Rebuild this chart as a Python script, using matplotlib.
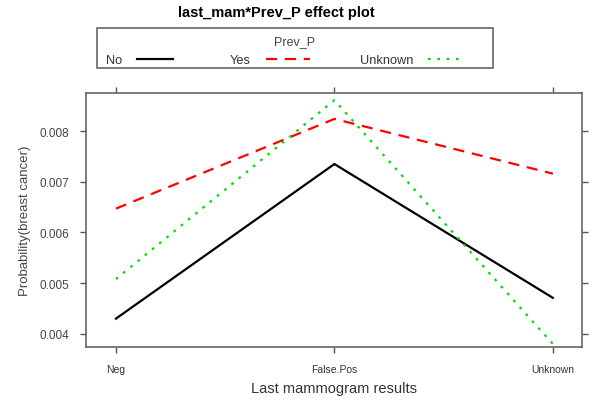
import matplotlib.pyplot as plt
from matplotlib.lines import Line2D
from matplotlib.patches import Rectangle

plt.rcParams['font.family'] = ['Liberation Sans', 'DejaVu Sans']

categories = ['Neg', 'False.Pos', 'Unknown']
prev_no = [0.00430, 0.00735, 0.00471]
prev_yes = [0.00647, 0.00824, 0.00716]
prev_unknown = [0.00508, 0.00861, 0.00380]
yticks = [0.004, 0.005, 0.006, 0.007, 0.008]
legend_labels = ['No', 'Yes', 'Unknown']

W, H = 592, 402
fig = plt.figure(figsize=(W / 100, H / 100), dpi=100)
ax = fig.add_axes([0.1453, 0.1343, 0.8377, 0.6317])

styles = [dict(color='black', lw=1.6),
          dict(color='red', lw=1.6, dashes=(5, 3.5)),
          dict(color='#00dd00', lw=1.6, dashes=(1.2, 3))]

x = range(len(categories))
for vals, lab, st in zip([prev_no, prev_yes, prev_unknown], legend_labels, styles):
    ax.plot(x, vals, label=lab, **st)

ax.set_xlim(-0.137, 2.133)
ax.set_ylim(0.00374, 0.00875)
ax.set_xticks(list(x))
ax.set_xticklabels(categories, fontsize=7.5, color='#333333')
ax.set_yticks(yticks)
ax.set_yticklabels(['%.3f' % v for v in yticks], fontsize=8.5, color='#444444')
ax.tick_params(direction='out', length=4, width=1, color='#555555',
               top=True, right=True, pad=8)
for s in ax.spines.values():
    s.set_color('#666666')
    s.set_linewidth(1.2)
ax.set_xlabel('Last mammogram results', fontsize=10.5, color='#333333', labelpad=5)
ax.set_ylabel('Probability(breast cancer)', fontsize=9.5, color='#444444', labelpad=6)

fig.text(0.466, 0.968, 'last_mam*Prev_P effect plot', ha='center', va='center',
         fontsize=10.5, fontweight='bold')

# lattice-style key box above the panel
def fx(px):
    return px / W

def fy(py):
    return 1 - py / H

fig.add_artist(Rectangle((fx(97), fy(69)), fx(493) - fx(97), fy(29) - fy(69),
                         transform=fig.transFigure, fill=False,
                         edgecolor='#666666', lw=1.2))
fig.text(fx(295), fy(42), 'Prev_P', ha='center', va='center', fontsize=9,
         color='#444444')
text_x = [106, 230, 360]
line_x = [(137, 173), (266, 310), (428, 465)]
for lab, tx, (x0, x1), st in zip(legend_labels, text_x, line_x, styles):
    fig.text(fx(tx), fy(61), lab, ha='left', va='center', fontsize=9.2,
             color='#333333')
    fig.add_artist(Line2D([fx(x0), fx(x1)], [fy(60), fy(60)],
                          transform=fig.transFigure, **st))

fig.savefig('out.png', dpi=100)
